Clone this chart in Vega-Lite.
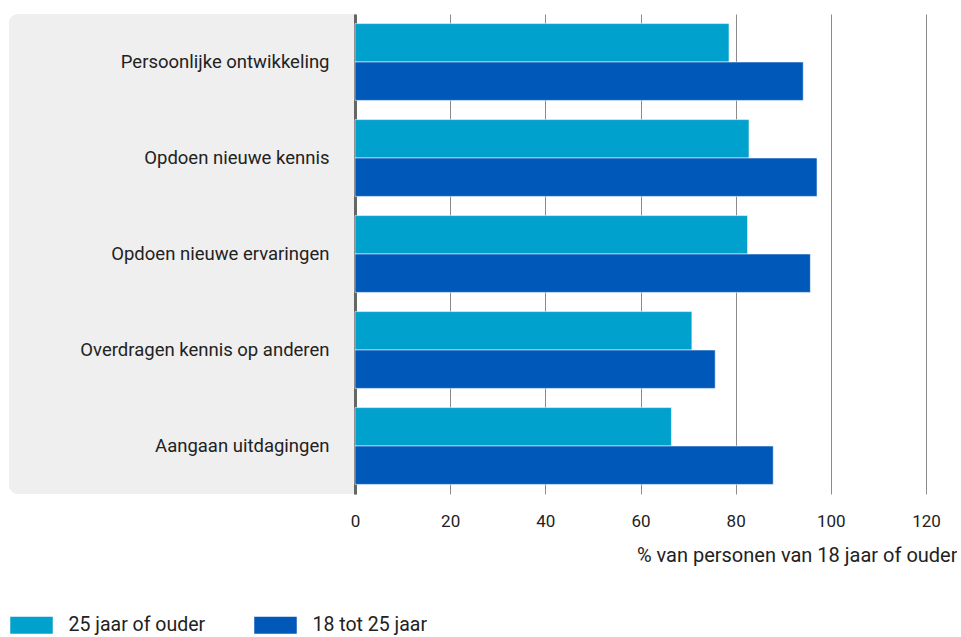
{
  "$schema": "https://vega.github.io/schema/vega-lite/v6.json",
  "padding": {"left": 9, "top": 14, "right": 0, "bottom": 0},
  "background": "white",
  "config": {
    "font": "Roboto",
    "view": {"stroke": null},
    "concat": {"spacing": 0}
  },
  "datasets": {
    "bars": [
      {"categorie": "Persoonlijke ontwikkeling", "leeftijd": "25 jaar of ouder", "pct": 78.6},
      {"categorie": "Persoonlijke ontwikkeling", "leeftijd": "18 tot 25 jaar", "pct": 94.2},
      {"categorie": "Opdoen nieuwe kennis", "leeftijd": "25 jaar of ouder", "pct": 82.8},
      {"categorie": "Opdoen nieuwe kennis", "leeftijd": "18 tot 25 jaar", "pct": 97.1},
      {"categorie": "Opdoen nieuwe ervaringen", "leeftijd": "25 jaar of ouder", "pct": 82.5},
      {"categorie": "Opdoen nieuwe ervaringen", "leeftijd": "18 tot 25 jaar", "pct": 95.7},
      {"categorie": "Overdragen kennis op anderen", "leeftijd": "25 jaar of ouder", "pct": 70.8},
      {"categorie": "Overdragen kennis op anderen", "leeftijd": "18 tot 25 jaar", "pct": 75.7},
      {"categorie": "Aangaan uitdagingen", "leeftijd": "25 jaar of ouder", "pct": 66.5},
      {"categorie": "Aangaan uitdagingen", "leeftijd": "18 tot 25 jaar", "pct": 87.9}
    ],
    "panel": [{"paneel": "labels"}]
  },
  "bounds": "flush",
  "hconcat": [
    {
      "width": 346,
      "height": 480,
      "data": {"name": "panel"},
      "mark": {"type": "rect", "fill": "#efefef", "cornerRadiusTopLeft": 9, "cornerRadiusBottomLeft": 9},
      "encoding": {}
    },
    {
      "width": 571,
      "height": 480,
      "data": {"name": "bars"},
      "mark": {"type": "bar", "stroke": "#ffffff", "strokeOpacity": 0.55, "strokeWidth": 1},
      "encoding": {
        "y": {
          "field": "categorie",
          "type": "nominal",
          "sort": null,
          "scale": {"paddingInner": 0.2, "paddingOuter": 0.1},
          "axis": {
            "title": null,
            "ticks": false,
            "grid": false,
            "domain": true,
            "domainColor": "#666666",
            "domainWidth": 3,
            "labelPadding": 26,
            "labelFontSize": 18.5,
            "labelColor": "#222222",
            "labelLimit": 400
          }
        },
        "yOffset": {
          "field": "leeftijd",
          "type": "nominal",
          "sort": ["25 jaar of ouder", "18 tot 25 jaar"],
          "scale": {"paddingInner": 0, "paddingOuter": 0}
        },
        "x": {
          "field": "pct",
          "type": "quantitative",
          "scale": {"domain": [0, 120], "nice": false},
          "axis": {
            "values": [0, 20, 40, 60, 80, 100, 120],
            "domain": false,
            "ticks": false,
            "grid": true,
            "gridColor": "#8c8c8c",
            "gridWidth": 1,
            "labelFlush": false,
            "labelFontSize": 17,
            "labelColor": "#222222",
            "labelPadding": 19,
            "title": "% van personen van 18 jaar of ouder",
            "titleFontSize": 20,
            "titleFontWeight": "normal",
            "titleColor": "#222222",
            "titleAnchor": "end",
            "titleAlign": "right",
            "titleX": 602,
            "titleY": 61,
            "titleBaseline": "middle"
          }
        },
        "color": {
          "field": "leeftijd",
          "type": "nominal",
          "scale": {"domain": ["25 jaar of ouder", "18 tot 25 jaar"], "range": ["#00a1cd", "#0058b8"]},
          "legend": {
            "title": null,
            "orient": "none",
            "legendX": 0,
            "legendY": 601,
            "direction": "horizontal",
            "symbolType": "M-1,-1H4V1H-1Z",
            "symbolSize": 289,
            "symbolStrokeWidth": 0,
            "labelOffset": 40,
            "labelFontSize": 19.5,
            "labelColor": "#222222",
            "columnPadding": 47,
            "labelLimit": 300
          }
        }
      }
    }
  ]
}
